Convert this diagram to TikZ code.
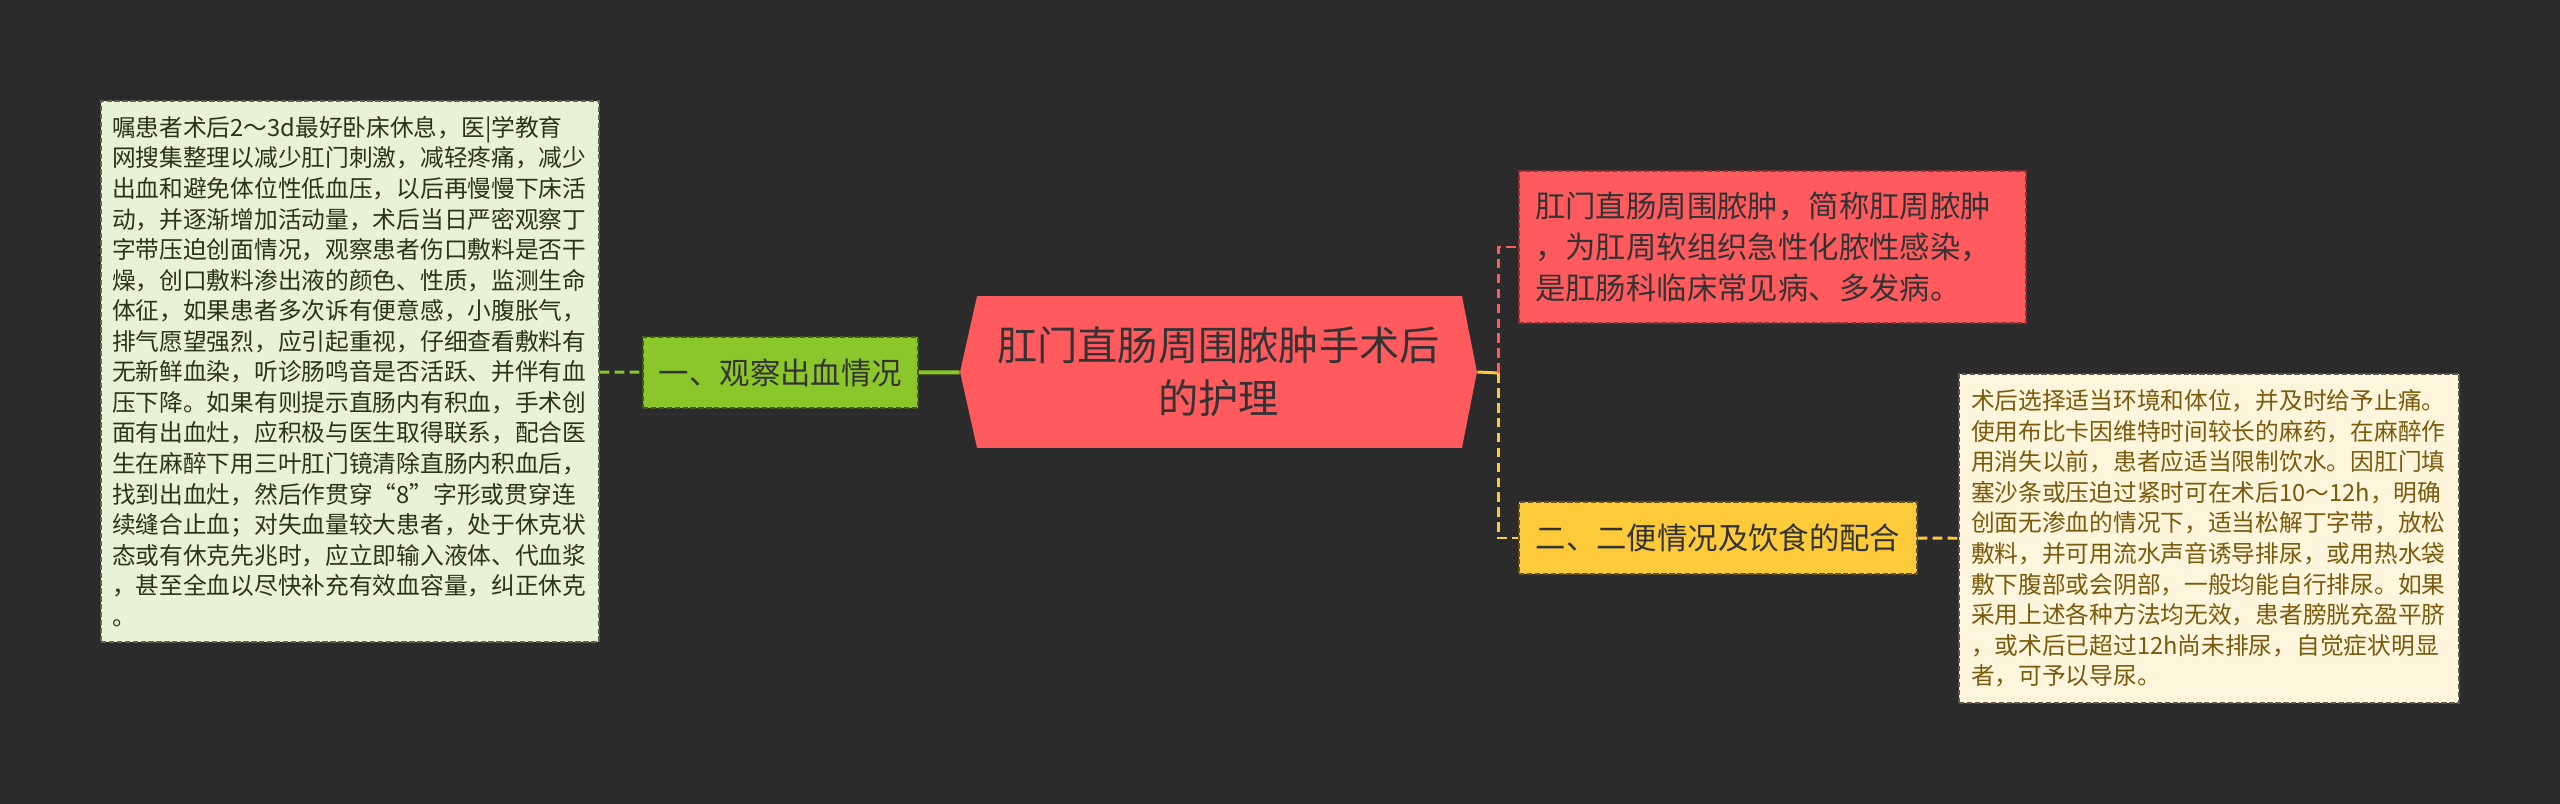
\documentclass[tikz,border=0pt]{standalone}
\usepackage{fontspec}
\setmainfont{Noto Sans CJK SC}
\usepackage{tikz}
\usetikzlibrary{positioning}
\definecolor{map-bg}{HTML}{2B2B2B}
\definecolor{map-text}{HTML}{333333}
\definecolor{map-green}{HTML}{8BC72A}
\definecolor{map-greenlight}{HTML}{E8F2D6}
\definecolor{map-greentext}{HTML}{2A3419}
\definecolor{map-red}{HTML}{FF5A5E}
\definecolor{map-yellow}{HTML}{FDCA3A}
\definecolor{map-cream}{HTML}{FEF6DC}
\definecolor{map-brown}{HTML}{7A5A0C}

\begin{document}
\begin{tikzpicture}[
    x=0.02cm, y=-0.02cm,
    box/.style={dash pattern=on 3pt off 1.5pt, line width=0.9pt, inner ysep=0pt},
    note/.style={box, font=\fontsize{13.5pt}{17.4pt}\selectfont, align=left},
    topic/.style={box, font=\fontsize{17.3pt}{23.2pt}\selectfont, text=map-text},
    link/.style={line width=1.7pt, dash pattern=on 5.5pt off 3pt},
]
    \useasboundingbox (0, 0) rectangle (2560, 804);
    \fill[map-bg] (0, 0) rectangle (2560, 804);

    % Root
    \node[font=\fontsize{22.9pt}{30.2pt}\selectfont, text=map-text, align=center,
          minimum width=10.34cm, minimum height=3.04cm, inner sep=0pt,
          path picture={\fill[map-red] (path picture bounding box.west)
              -- ([xshift=0.34cm]path picture bounding box.north west)
              -- ([xshift=-0.3cm]path picture bounding box.north east)
              -- (path picture bounding box.east)
              -- ([xshift=-0.3cm]path picture bounding box.south east)
              -- ([xshift=0.34cm]path picture bounding box.south west) -- cycle;}]
        (root) at (1218.5, 372) {肛门直肠周围脓肿手术后\\的护理};

    % Left branch
    \node[topic, fill=map-green, draw=map-green!45!black, minimum width=5.5cm, minimum height=1.42cm]
        (bleed) at (780.5, 372.5) {一、观察出血情况};

    \node[note, fill=map-greenlight, draw=map-greenlight!40!black, text=map-greentext,
          text width=9.52cm, inner xsep=0.22cm, minimum height=10.82cm]
        (bleednote) at (350, 371.5) {嘱患者术后2～3d最好卧床休息，医|学教育\\
        网搜集整理以减少肛门刺激，减轻疼痛，减少\\
        出血和避免体位性低血压，以后再慢慢下床活\\
        动，并逐渐增加活动量，术后当日严密观察丁\\
        字带压迫创面情况，观察患者伤口敷料是否干\\
        燥，创口敷料渗出液的颜色、性质，监测生命\\
        体征，如果患者多次诉有便意感，小腹胀气，\\
        排气愿望强烈，应引起重视，仔细查看敷料有\\
        无新鲜血染，听诊肠鸣音是否活跃、并伴有血\\
        压下降。如果有则提示直肠内有积血，手术创\\
        面有出血灶，应积极与医生取得联系，配合医\\
        生在麻醉下用三叶肛门镜清除直肠内积血后，\\
        找到出血灶，然后作贯穿“8”字形或贯穿连\\
        续缝合止血；对失血量较大患者，处于休克状\\
        态或有休克先兆时，应立即输入液体、代血浆\\
        ，甚至全血以尽快补充有效血容量，纠正休克\\
        。};

    \draw[link, map-green] (bleednote) -- (bleed);
    \draw[map-green, line width=2.3pt] (bleed) -- (root);

    % Right branches
    \coordinate (fork) at (1498, 373);

    \node[topic, fill=map-red, draw=map-red!55!black, align=left,
          text width=9.5cm, inner xsep=0.32cm, minimum height=3.04cm]
        (define) at (1772.5, 247) {肛门直肠周围脓肿，简称肛周脓肿\\
        ，为肛周软组织急性化脓性感染，\\
        是肛肠科临床常见病、多发病。};

    \node[topic, fill=map-yellow, draw=map-yellow!40!black, minimum width=7.96cm, minimum height=1.44cm]
        (diet) at (1718, 538) {二、二便情况及饮食的配合};

    \node[note, fill=map-cream, draw=map-cream!35!black, text=map-brown,
          text width=9.52cm, inner xsep=0.24cm, minimum height=6.58cm]
        (dietnote) at (2209, 538.5) {术后选择适当环境和体位，并及时给予止痛。\\
        使用布比卡因维特时间较长的麻药，在麻醉作\\
        用消失以前，患者应适当限制饮水。因肛门填\\
        塞沙条或压迫过紧时可在术后10～12h，明确\\
        创面无渗血的情况下，适当松解丁字带，放松\\
        敷料，并可用流水声音诱导排尿，或用热水袋\\
        敷下腹部或会阴部，一般均能自行排尿。如果\\
        采用上述各种方法均无效，患者膀胱充盈平脐\\
        ，或术后已超过12h尚未排尿，自觉症状明显\\
        者，可予以导尿。};

    \draw[map-yellow, line width=1.7pt] (root.east) -- (fork);
    \draw[link, map-red] (fork) |- (define.west);
    \draw[link, map-yellow] (fork) |- (diet.west);
    \draw[link, map-yellow] (diet) -- (dietnote);
\end{tikzpicture}
\end{document}
